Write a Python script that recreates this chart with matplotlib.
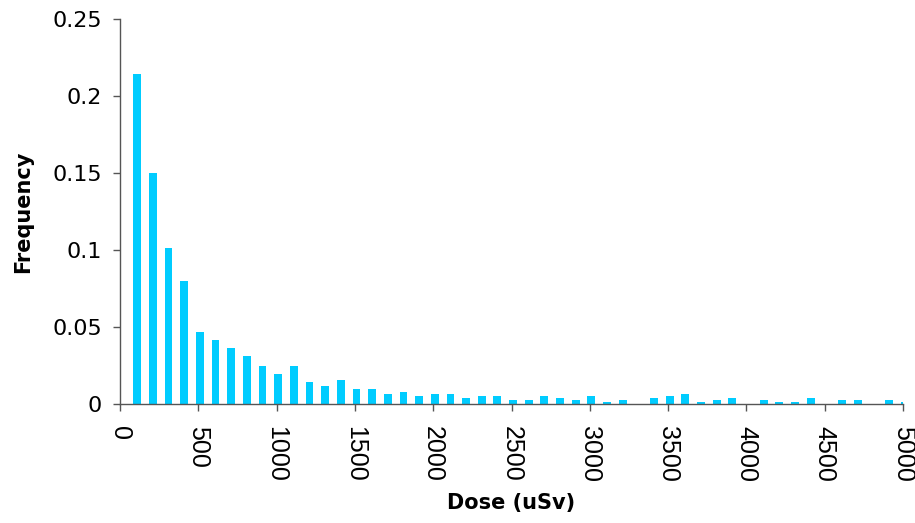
import matplotlib
matplotlib.use("Agg")
import matplotlib.pyplot as plt
import numpy as np

plt.rcParams['font.family'] = ['DejaVu Sans']

# Dose bins (uSv) and their relative frequencies
dose = list(range(100, 5100, 100))
frequency = [
    0.214, 0.150, 0.101, 0.080, 0.0465, 0.0413, 0.0361, 0.0309, 0.0244, 0.0192,
    0.0244, 0.0140, 0.0114, 0.0153, 0.0100, 0.0100, 0.0062, 0.0075, 0.0049, 0.0062,
    0.0062, 0.0036, 0.0049, 0.0049, 0.0023, 0.0023, 0.0049, 0.0036, 0.0023, 0.0049,
    0.0010, 0.0023, 0.0, 0.0036, 0.0049, 0.0062, 0.0010, 0.0023, 0.0036, 0.0,
    0.0023, 0.0010, 0.0010, 0.0036, 0.0, 0.0023, 0.0023, 0.0, 0.0023, 0.0010,
]
xticks = list(range(0, 5001, 500))
yticks = [0, 0.05, 0.1, 0.15, 0.2, 0.25]
ytick_labels = ["0", "0.05", "0.1", "0.15", "0.2", "0.25"]

fig = plt.figure(figsize=(9.15, 5.23), dpi=100)
ax = fig.add_axes([120 / 915, 1 - 404 / 523, 783 / 915, 385 / 523])

ax.bar(np.array(dose) + 10, frequency, width=50, color="#00CCFF", linewidth=0)

ax.set_xlim(0, 5000)
ax.set_ylim(0, 0.25)
ax.set_xticks(xticks)
ax.set_xticklabels([str(t) for t in xticks], rotation=-90, fontsize=18,
                   family=['Liberation Sans', 'DejaVu Sans'])
ax.set_yticks(yticks)
ax.set_yticklabels(ytick_labels, fontsize=16)

for side in ("top", "right"):
    ax.spines[side].set_visible(False)
for side in ("left", "bottom"):
    ax.spines[side].set_color("#555555")
    ax.spines[side].set_linewidth(1.0)
ax.tick_params(axis="both", direction="out", length=5, width=1.0, color="#555555")
ax.tick_params(axis="x", pad=11)
ax.tick_params(axis="y", pad=8)

ax.set_xlabel("Dose (uSv)", fontsize=15, fontweight="bold", labelpad=8)
ax.set_ylabel("Frequency", fontsize=15, fontweight="bold", labelpad=14)

fig.savefig("out.png", dpi=100)
